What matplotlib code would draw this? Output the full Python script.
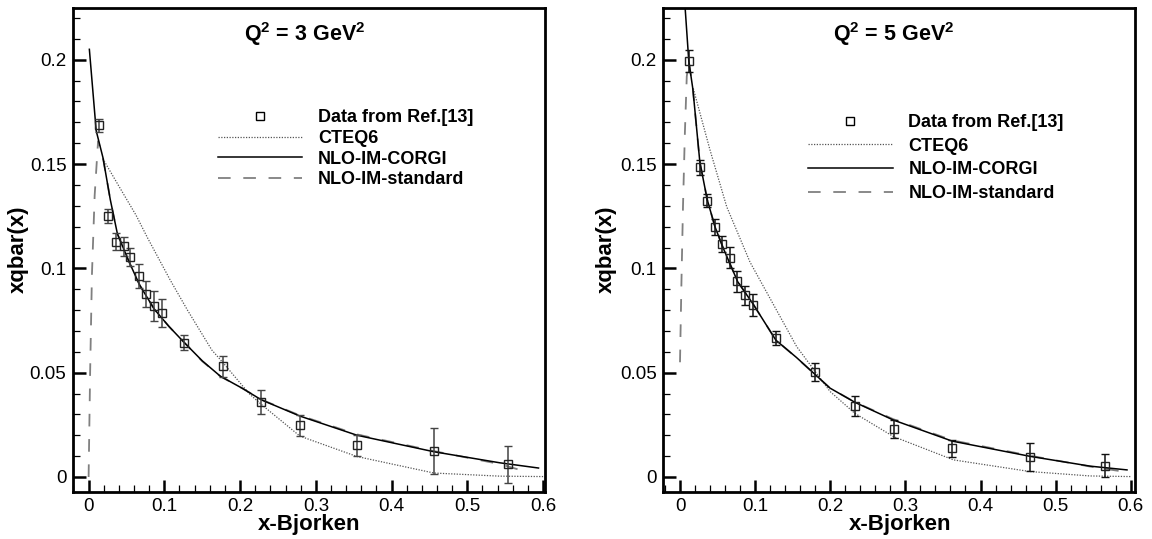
import numpy as np
import matplotlib
matplotlib.use("Agg")
import matplotlib.pyplot as plt
from matplotlib.lines import Line2D
from matplotlib.ticker import MultipleLocator, FuncFormatter

plt.rcParams['font.family'] = ['Liberation Sans', 'DejaVu Sans']
plt.rcParams['mathtext.fontset'] = 'custom'
plt.rcParams['mathtext.bf'] = 'Liberation Sans:bold'
plt.rcParams['mathtext.rm'] = 'Liberation Sans:bold'

# ---------------- Q^2 = 3 GeV^2 ----------------
q3_data_x = [0.0131, 0.0262, 0.0364, 0.0466, 0.0553, 0.066, 0.0761, 0.0863, 0.0965,
             0.126, 0.177, 0.228, 0.279, 0.3545, 0.456, 0.554]
q3_data_y = [0.1685, 0.1252, 0.1128, 0.1105, 0.1054, 0.0962, 0.0878, 0.082, 0.0787,
             0.0644, 0.053, 0.0359, 0.0247, 0.0152, 0.0124, 0.0061]
q3_data_err = [0.0033, 0.0035, 0.004, 0.0045, 0.0045, 0.0058, 0.0063, 0.007, 0.0068,
               0.0037, 0.005, 0.0056, 0.0051, 0.005, 0.011, 0.0088]

q3_corgi_x = [0.001, 0.010, 0.019, 0.0286, 0.038, 0.053, 0.0674, 0.0868, 0.106, 0.1256,
              0.150, 0.174, 0.203, 0.228, 0.279, 0.3545, 0.456, 0.543, 0.594]
q3_corgi_y = [0.205, 0.166, 0.153, 0.133, 0.1166, 0.1035, 0.092, 0.0804, 0.0722, 0.0647,
              0.0557, 0.0483, 0.0425, 0.0370, 0.0292, 0.0200, 0.0121, 0.0068, 0.0043]

q3_std_x = [0.0, 0.002, 0.0044, 0.008, 0.0125, 0.019, 0.0286, 0.038, 0.053, 0.0674, 0.0868,
            0.106, 0.1256, 0.150, 0.174, 0.203, 0.228, 0.279, 0.3545, 0.456, 0.543, 0.577]
q3_std_y = [0.0, 0.050, 0.097, 0.135, 0.161, 0.153, 0.133, 0.1166, 0.1035, 0.092, 0.0804,
            0.0722, 0.0647, 0.0555, 0.0482, 0.0425, 0.0371, 0.0295, 0.0204, 0.0124, 0.0062, 0.0026]

q3_cteq_x = [0.0187, 0.0416, 0.0626, 0.078, 0.1076, 0.1305, 0.1626, 0.177, 0.203, 0.213,
             0.228, 0.279, 0.3545, 0.456, 0.543, 0.601]
q3_cteq_y = [0.1526, 0.1384, 0.1255, 0.1145, 0.0945, 0.0800, 0.0609, 0.0550, 0.0438, 0.0396,
             0.0348, 0.0196, 0.0098, 0.0019, 0.0004, 0.0002]

# ---------------- Q^2 = 5 GeV^2 ----------------
q5_data_x = [0.0117, 0.0264, 0.0362, 0.0465, 0.0562, 0.066, 0.0763, 0.087, 0.0973,
             0.1276, 0.180, 0.2328, 0.285, 0.3623, 0.4665, 0.5658]
q5_data_y = [0.1993, 0.1484, 0.1325, 0.12, 0.1117, 0.1051, 0.0939, 0.087, 0.0824,
             0.0667, 0.0502, 0.0338, 0.0232, 0.0137, 0.0096, 0.0054]
q5_data_err = [0.0053, 0.0037, 0.0033, 0.0038, 0.004, 0.005, 0.005, 0.0047, 0.0054,
               0.0033, 0.0044, 0.0048, 0.0043, 0.0041, 0.0068, 0.0054]

q5_corgi_x = [0.004, 0.0068, 0.0117, 0.0171, 0.0264, 0.0362, 0.0465, 0.0572, 0.067, 0.0768,
              0.0973, 0.1276, 0.155, 0.180, 0.1997, 0.2328, 0.284, 0.3623, 0.466, 0.546, 0.595]
q5_corgi_y = [0.245, 0.225, 0.1993, 0.186, 0.151, 0.133, 0.12, 0.110, 0.1018, 0.0936,
              0.0829, 0.0656, 0.0573, 0.0491, 0.0426, 0.0358, 0.0273, 0.0172, 0.0099, 0.0052, 0.0034]

q5_std_x = [0.0, 0.002, 0.004, 0.0065, 0.009, 0.0117, 0.0171, 0.0264, 0.0362, 0.0465, 0.0572,
            0.067, 0.0768, 0.0973, 0.1276, 0.155, 0.180, 0.1997, 0.2328, 0.284, 0.3623,
            0.466, 0.546, 0.59]
q5_std_y = [0.055, 0.095, 0.13, 0.165, 0.192, 0.1993, 0.186, 0.151, 0.133, 0.12, 0.110,
            0.1018, 0.0936, 0.0829, 0.0656, 0.0572, 0.049, 0.0426, 0.0359, 0.0277, 0.0176,
            0.0102, 0.0050, 0.0026]

q5_cteq_x = [0.0177, 0.0399, 0.0622, 0.0932, 0.1553, 0.1997, 0.2328, 0.284, 0.364, 0.466,
             0.546, 0.60]
q5_cteq_y = [0.1862, 0.1568, 0.1295, 0.1030, 0.0625, 0.0410, 0.0305, 0.0194, 0.0082, 0.0026,
             0.0005, 0.0002]

legend_labels = ['Data from Ref.[13]', 'CTEQ6', 'NLO-IM-CORGI', 'NLO-IM-standard']

panels = [
    dict(title=r'Q$^\mathbf{2}$ = 3 GeV$^\mathbf{2}$',
         dx=q3_data_x, dy=q3_data_y, de=q3_data_err,
         cx=q3_corgi_x, cy=q3_corgi_y, sx=q3_std_x, sy=q3_std_y,
         tx=q3_cteq_x, ty=q3_cteq_y,
         xlim=(-0.021, 0.6023), rect=(72.7, 7.6, 544.8, 491.6),
         leg=(0.1707, 0.1762), ls=0.2, tpos=0.492, ylx=-0.116, ecol='#444444'),
    dict(title=r'Q$^\mathbf{2}$ = 5 GeV$^\mathbf{2}$',
         dx=q5_data_x, dy=q5_data_y, de=q5_data_err,
         cx=q5_corgi_x, cy=q5_corgi_y, sx=q5_std_x, sy=q5_std_y,
         tx=q5_cteq_x, ty=q5_cteq_y,
         xlim=(-0.0225, 0.6059), rect=(663.1, 7.6, 1135.2, 491.6),
         leg=(0.1707, 0.1740), ls=0.37, tpos=0.489, ylx=-0.121, ecol='#111111'),
]

W, H = 1152, 539
fig = plt.figure(figsize=(W / 100, H / 100), dpi=100)

for p in panels:
    l, t, r, b = p['rect']
    ax = fig.add_axes([l / W, 1 - b / H, (r - l) / W, (b - t) / H])
    ax.set_xlim(*p['xlim'])
    ax.set_ylim(-0.007, 0.225)

    ax.plot(p['tx'], p['ty'], color='#555555', lw=0.9, ls=(0, (1, 1.2)), zorder=2)
    ax.plot(p['sx'], p['sy'], color='#808080', lw=1.3, ls=(0, (7, 7)), zorder=2)
    ax.plot(p['cx'], p['cy'], color='black', lw=1.1, zorder=3)
    ax.errorbar(p['dx'], p['dy'], yerr=p['de'], fmt='s', ms=5.2, mfc='none', mec='#222222',
                mew=1.0, ecolor=p['ecol'], elinewidth=1.1, capsize=3, capthick=1.1, zorder=4)

    ax.text(p['tpos'], 0.945, p['title'], transform=ax.transAxes, ha='center', va='center',
            fontsize=15.5, fontweight='bold')

    handles = [
        Line2D([], [], marker='s', ls='none', ms=5.2, mfc='none', mec='black', mew=1.0),
        Line2D([], [], color='#555555', lw=0.9, ls=(0, (1, 1.2))),
        Line2D([], [], color='black', lw=1.1),
        Line2D([], [], color='#808080', lw=1.3, ls=(0, (7, 7))),
    ]
    ax.legend(handles, legend_labels, loc='upper left', bbox_to_anchor=p['leg'],
              bbox_transform=ax.transData, frameon=False, borderpad=0,
              borderaxespad=0, handlelength=4.68, handletextpad=0.86,
              labelspacing=p['ls'], prop=dict(size=13, weight='bold'))

    ax.xaxis.set_major_locator(MultipleLocator(0.1))
    ax.xaxis.set_minor_locator(MultipleLocator(0.02))
    ax.yaxis.set_major_locator(MultipleLocator(0.05))
    ax.yaxis.set_minor_locator(MultipleLocator(0.01))
    fmt = FuncFormatter(lambda v, pos: '%g' % round(v, 4))
    ax.xaxis.set_major_formatter(fmt)
    ax.yaxis.set_major_formatter(fmt)
    ax.tick_params(which='both', direction='in', top=False, right=False, labelsize=13.5)
    ax.tick_params(which='major', length=9, width=1.8, pad=4.5)
    ax.tick_params(which='minor', length=5, width=0.9)
    for s in ax.spines.values():
        s.set_linewidth(2.0)

    ax.set_xlabel('x-Bjorken', fontsize=16, fontweight='bold')
    ax.set_ylabel('xqbar(x)', fontsize=16, fontweight='bold')
    ax.xaxis.set_label_coords(0.501, -0.067)
    ax.yaxis.set_label_coords(p['ylx'], 0.5)
    ax.xaxis.label.set_va('center')
    ax.yaxis.label.set_va('center')

fig.savefig('out.png', dpi=100)
